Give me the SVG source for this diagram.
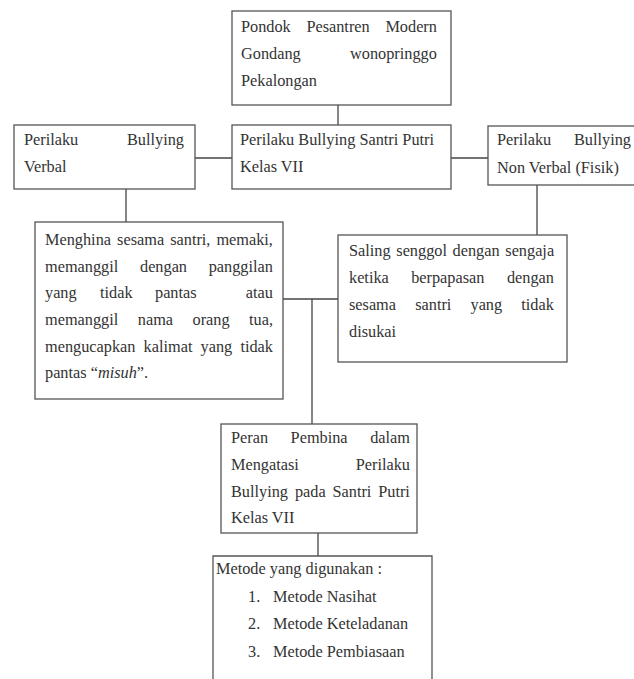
<svg xmlns="http://www.w3.org/2000/svg" width="634" height="679" viewBox="0 0 634 679">
<style>
.box{fill:#fff;stroke:#555;stroke-width:1.3}
.ln{stroke:#444;stroke-width:1.3;fill:none}
text{font-family:"Liberation Serif","Times New Roman",serif;font-size:16.3px;fill:#333}
</style>
<rect width="634" height="679" fill="#fff"/>
<g id="connectors">
<line class="ln" x1="338" y1="105" x2="338" y2="125"/>
<line class="ln" x1="195" y1="158" x2="232" y2="158"/>
<line class="ln" x1="451" y1="158" x2="488" y2="158"/>
<line class="ln" x1="126" y1="189" x2="126" y2="222"/>
<line class="ln" x1="537" y1="185" x2="537" y2="235"/>
<line class="ln" x1="283" y1="299" x2="338" y2="299"/>
<line class="ln" x1="312" y1="299" x2="312" y2="424"/>
<line class="ln" x1="318" y1="533" x2="318" y2="556"/>
</g>
<g id="pondok">
<rect class="box" x="232" y="11" width="219" height="94"/>
<text y="32"><tspan x="241">Pondok</tspan><tspan x="306.4">Pesantren</tspan><tspan x="385.4">Modern</tspan></text>
<text y="59"><tspan x="241">Gondang</tspan><tspan x="350">wonopringgo</tspan></text>
<text x="241" y="86">Pekalongan</text>
</g>
<g id="verbal">
<rect class="box" x="14" y="125" width="181" height="64"/>
<text y="145"><tspan x="24">Perilaku</tspan><tspan x="127">Bullying</tspan></text>
<text x="24" y="172">Verbal</text>
</g>
<g id="santri">
<rect class="box" x="232" y="125" width="219" height="64"/>
<text x="240" y="145">Perilaku Bullying Santri Putri</text>
<text x="240" y="172">Kelas VII</text>
</g>
<g id="nonverbal">
<rect class="box" x="488" y="126" width="150" height="59"/>
<text y="145"><tspan x="497">Perilaku</tspan><tspan x="574">Bullying</tspan></text>
<text x="497" y="173">Non Verbal (Fisik)</text>
</g>
<g id="verbal-desc">
<rect class="box" x="35" y="222" width="248" height="177"/>
<text y="245"><tspan x="45">Menghina</tspan><tspan x="117.1">sesama</tspan><tspan x="170.2">santri,</tspan><tspan x="216.4">memaki,</tspan></text>
<text y="272"><tspan x="45">memanggil</tspan><tspan x="140">dengan</tspan><tspan x="208.7">panggilan</tspan></text>
<text y="298"><tspan x="45">yang</tspan><tspan x="100">tidak</tspan><tspan x="155">pantas</tspan><tspan x="245.8">atau</tspan></text>
<text y="325"><tspan x="45">memanggil</tspan><tspan x="137.8">nama</tspan><tspan x="192.5">orang</tspan><tspan x="249">tua,</tspan></text>
<text y="352"><tspan x="45">mengucapkan</tspan><tspan x="143.6">kalimat</tspan><tspan x="200.6">yang</tspan><tspan x="240.4">tidak</tspan></text>
<text x="45" y="378">pantas “<tspan font-style="italic">misuh</tspan>”.</text>
</g>
<g id="fisik-desc">
<rect class="box" x="338" y="235" width="229" height="127"/>
<text y="256"><tspan x="349">Saling</tspan><tspan x="396.3">senggol</tspan><tspan x="452.6">dengan</tspan><tspan x="505.3">sengaja</tspan></text>
<text y="283"><tspan x="349">ketika</tspan><tspan x="411.2">berpapasan</tspan><tspan x="506.9">dengan</tspan></text>
<text y="310"><tspan x="349">sesama</tspan><tspan x="415.2">santri</tspan><tspan x="470.5">yang</tspan><tspan x="521.3">tidak</tspan></text>
<text x="349" y="337">disukai</text>
</g>
<g id="peran">
<rect class="box" x="221" y="424" width="196" height="109"/>
<text y="443"><tspan x="231">Peran</tspan><tspan x="290.6">Pembina</tspan><tspan x="370.2">dalam</tspan></text>
<text y="470"><tspan x="231">Mengatasi</tspan><tspan x="355.7">Perilaku</tspan></text>
<text y="497"><tspan x="231">Bullying</tspan><tspan x="294.9">pada</tspan><tspan x="332.5">Santri</tspan><tspan x="378.2">Putri</tspan></text>
<text x="231" y="523">Kelas VII</text>
</g>
<g id="metode">
<path class="box" d="M213,690 V556 H432 V690"/>
<text x="216" y="574">Metode yang digunakan :</text>
<text x="248" y="602">1.</text><text x="273" y="602">Metode Nasihat</text>
<text x="248" y="629">2.</text><text x="273" y="629">Metode Keteladanan</text>
<text x="248" y="657">3.</text><text x="273" y="657">Metode Pembiasaan</text>
</g>
</svg>
